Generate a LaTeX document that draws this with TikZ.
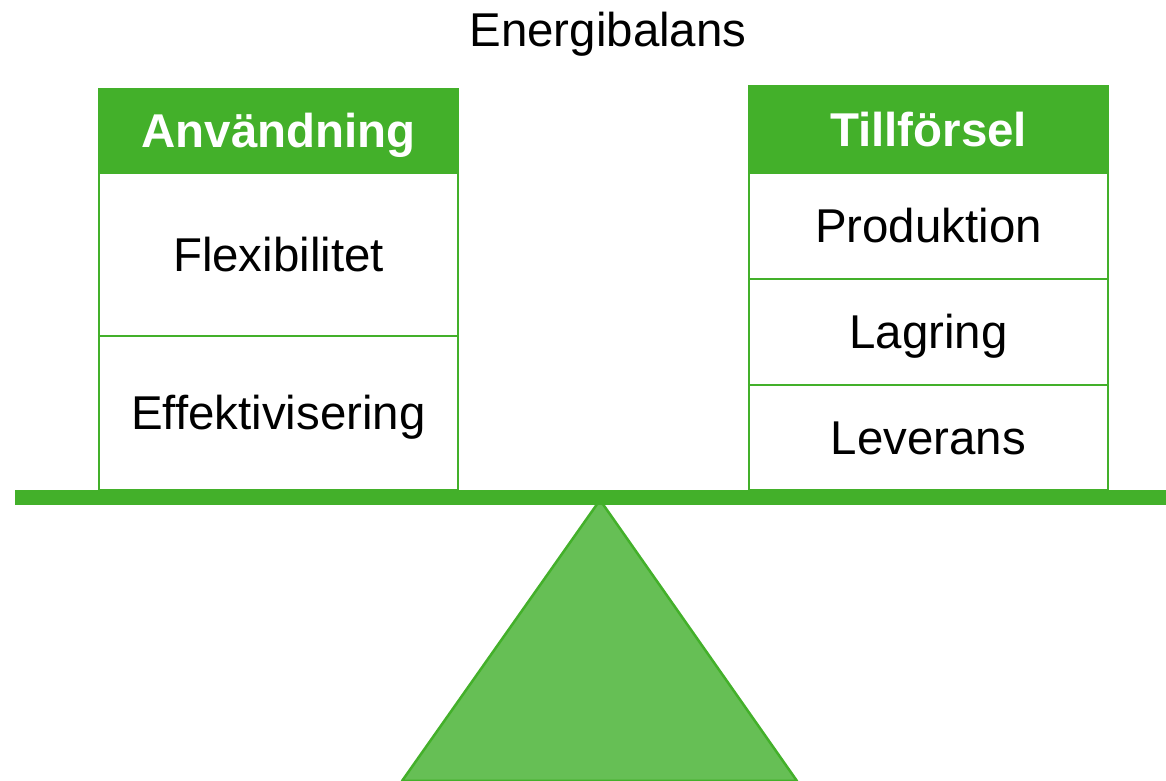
\documentclass[tikz,border=0pt]{standalone}
\usepackage{fontspec}
\setmainfont{Liberation Sans}
\definecolor{balgreen}{RGB}{67,176,42}
\definecolor{tritgreen}{RGB}{102,191,85}
\tikzset{
  bigtext/.style={font=\fontsize{27}{32}\selectfont, text height=19.3pt, text depth=0pt},
  cell/.style={bigtext, draw=balgreen, line width=0.05cm, fill=white, inner sep=0pt,
    minimum width=7.18cm},
  headcell/.style={cell, fill=balgreen, text=white, font=\fontsize{27}{32}\selectfont\bfseries}
}
\begin{document}
\begin{tikzpicture}
\useasboundingbox (0,0) rectangle (23.32,15.62);

% stand
\coordinate (apex) at (12.0,5.62);
\coordinate (baseL) at (8.04,0);
\coordinate (baseR) at (15.94,0);
\draw[balgreen, fill=tritgreen, line width=0.05cm, line join=round] (baseL) -- (apex) -- (baseR) -- cycle;

\node[bigtext] (title) at (12.16,15.02) {Energibalans};

% left column
\node[headcell, minimum height=1.68cm] (anv) at (5.57,13.0) {Användning};
\node[cell, minimum height=3.26cm] (flex) at (5.57,10.53) {Flexibilitet};
\node[cell, minimum height=3.08cm] (eff) at (5.57,7.36) {Effektivisering};

% right column
\node[headcell, minimum height=1.74cm] (till) at (18.57,13.03) {Tillförsel};
\node[cell, minimum height=2.12cm] (prod) at (18.57,11.10) {Produktion};
\node[cell, minimum height=2.12cm] (lag) at (18.57,8.98) {Lagring};
\node[cell, minimum height=2.10cm] (lev) at (18.57,6.87) {Leverans};

% beam
\fill[balgreen] (0.3,5.52) rectangle (23.32,5.82);

\end{tikzpicture}
\end{document}
